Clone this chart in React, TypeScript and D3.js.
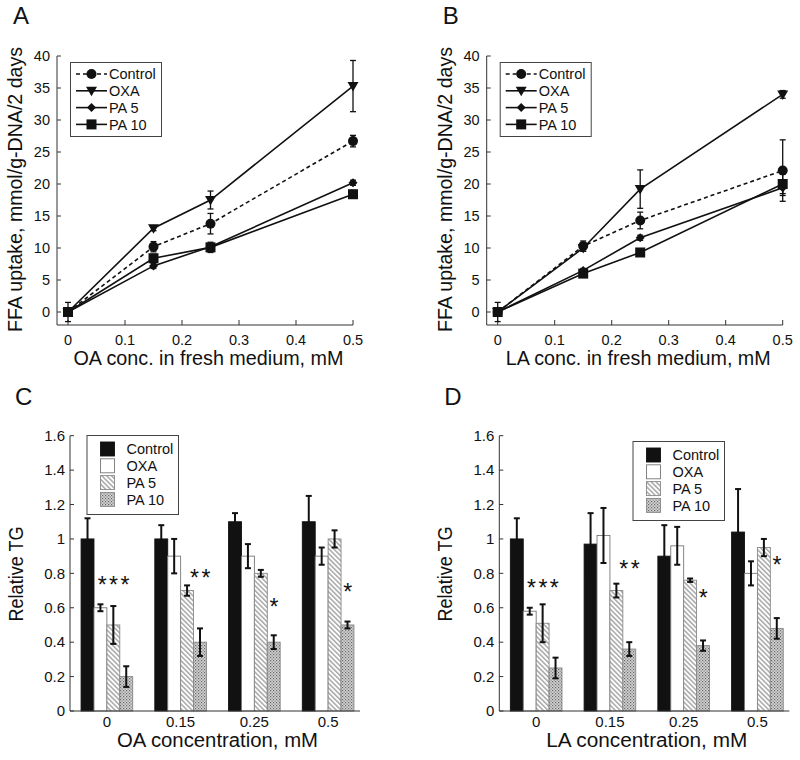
import React from 'react';
import * as d3 from 'd3';

const FONT = '"Liberation Sans", Arial, Helvetica, sans-serif';

const seriesNames = ['Control', 'OXA', 'PA 5', 'PA 10'];

// Panels A/B: FFA uptake
const uptakeConc = [0, 0.15, 0.25, 0.5];
const uptakeYTicks = [0, 5, 10, 15, 20, 25, 30, 35, 40];
const uptakeXTicks = [0, 0.1, 0.2, 0.3, 0.4, 0.5];

const oaControl = [0, 10.2, 13.8, 26.7];
const oaControlErr = [1.5, 0.8, 1.6, 0.9];
const oaOXA = [0, 13.1, 17.5, 35.3];
const oaOXAErr = [0.4, 0.4, 1.4, 4.0];
const oaPA5 = [0, 7.2, 10.2, 20.2];
const oaPA5Err = [0.3, 0.4, 0.5, 0.4];
const oaPA10 = [0, 8.4, 10.1, 18.4];
const oaPA10Err = [0.3, 0.6, 0.8, 0.6];

const laControl = [0, 10.3, 14.3, 22.1];
const laControlErr = [1.5, 0.8, 1.3, 4.8];
const laOXA = [0, 10.0, 19.2, 34.0];
const laOXAErr = [0.3, 0.5, 3.0, 0.6];
const laPA5 = [0, 6.5, 11.6, 19.4];
const laPA5Err = [0.3, 0.3, 0.4, 1.2];
const laPA10 = [0, 6.0, 9.3, 20.0];
const laPA10Err = [0.3, 0.3, 0.4, 1.5];

// Panels C/D: relative TG
const tgConc = ['0', '0.15', '0.25', '0.5'];
const tgYTicks = [0, 0.2, 0.4, 0.6, 0.8, 1, 1.2, 1.4, 1.6];

const oaTGControl = [1.0, 1.0, 1.1, 1.1];
const oaTGControlErr = [0.12, 0.08, 0.05, 0.15];
const oaTGOXA = [0.6, 0.9, 0.9, 0.9];
const oaTGOXAErr = [0.02, 0.1, 0.07, 0.05];
const oaTGPA5 = [0.5, 0.7, 0.8, 1.0];
const oaTGPA5Err = [0.11, 0.03, 0.02, 0.05];
const oaTGPA10 = [0.2, 0.4, 0.4, 0.5];
const oaTGPA10Err = [0.06, 0.08, 0.04, 0.02];

const laTGControl = [1.0, 0.97, 0.9, 1.04];
const laTGControlErr = [0.12, 0.18, 0.18, 0.25];
const laTGOXA = [0.58, 1.02, 0.96, 0.8];
const laTGOXAErr = [0.02, 0.16, 0.11, 0.07];
const laTGPA5 = [0.51, 0.7, 0.76, 0.95];
const laTGPA5Err = [0.11, 0.04, 0.01, 0.05];
const laTGPA10 = [0.25, 0.36, 0.38, 0.48];
const laTGPA10Err = [0.06, 0.04, 0.03, 0.06];

const oaStars = ['***', '**', '*', '*'];
const oaStarSeries = [2, 3, 3, 3];
const oaStarLevel = [0.76, 0.8, 0.635, 0.72];
const laStars = ['***', '**', '*', '*'];
const laStarSeries = [2, 3, 3, 3];
const laStarLevel = [0.745, 0.856, 0.688, 0.88];

const INK = '#111';
const AXIS = '#333';

function Marker({ kind, cx, cy }: { kind: number; cx: number; cy: number }) {
  if (kind === 0) return <circle cx={cx} cy={cy} r={5} fill={INK} />;
  if (kind === 1)
    return <path d={`M${cx - 5.5},${cy - 4} L${cx + 5.5},${cy - 4} L${cx},${cy + 5.5} Z`} fill={INK} />;
  if (kind === 2)
    return <path d={`M${cx},${cy - 4.5} L${cx + 4.5},${cy} L${cx},${cy + 4.5} L${cx - 4.5},${cy} Z`} fill={INK} />;
  return <rect x={cx - 5} y={cy - 5} width={10} height={10} fill={INK} />;
}

function LinePanel({ dx, letter, xTitle, xTitleLen, vals, errs }: any) {
  const x = d3.scaleLinear().domain([0, 0.5]).range([68 + dx, 353 + dx]);
  const y = d3.scaleLinear().domain([0, 40]).range([312, 56]);
  const axX = 57 + dx;
  const axY = 325;
  const line = d3.line<number>().x((_, i) => x(uptakeConc[i])).y((d) => y(d));
  const order = [3, 2, 0, 1];
  return (
    <g fontFamily={FONT}>
      <text x={13 + dx} y={24} fontSize={24} fill={INK}>{letter}</text>
      <line x1={axX} x2={axX} y1={y(40)} y2={axY} stroke={AXIS} strokeWidth={1} />
      <line x1={axX} x2={x(0.5)} y1={axY} y2={axY} stroke={AXIS} strokeWidth={1} />
      {uptakeYTicks.map((t) => (
        <g key={'y' + t}>
          <line x1={axX} x2={axX + 4} y1={y(t)} y2={y(t)} stroke={AXIS} />
          <text x={axX - 7} y={y(t) + 5} fontSize={14.5} textAnchor="end" fill={INK}>{t}</text>
        </g>
      ))}
      {uptakeXTicks.map((t) => (
        <g key={'x' + t}>
          <line x1={x(t)} x2={x(t)} y1={axY} y2={axY - 5} stroke={AXIS} />
          <text x={x(t)} y={axY + 20} fontSize={14.5} textAnchor="middle" fill={INK}>{t}</text>
        </g>
      ))}
      <text x={x(0.25) - 2} y={365} fontSize={19.5} textAnchor="middle" fill={INK}
        textLength={xTitleLen} lengthAdjust="spacingAndGlyphs">{xTitle}</text>
      <text transform={`translate(${22 + dx},${189.5}) rotate(-90)`} fontSize={19.5} textAnchor="middle" fill={INK}
        textLength={285} lengthAdjust="spacingAndGlyphs">
        FFA uptake, mmol/g-DNA/2 days
      </text>
      {order.map((s) => (
        <g key={'s' + s}>
          <path d={line(vals[s]) || ''} fill="none" stroke={INK} strokeWidth={1.6}
            strokeDasharray={s === 0 ? '4,3' : undefined} />
          {vals[s].map((v: number, i: number) => {
            const e = errs[s][i];
            const cx = x(uptakeConc[i]);
            return (
              <g key={i}>
                <line x1={cx} x2={cx} y1={y(v + e)} y2={y(v - e)} stroke={INK} strokeWidth={1.3} />
                <line x1={cx - 3} x2={cx + 3} y1={y(v + e)} y2={y(v + e)} stroke={INK} strokeWidth={1.3} />
                <line x1={cx - 3} x2={cx + 3} y1={y(v - e)} y2={y(v - e)} stroke={INK} strokeWidth={1.3} />
                <Marker kind={s} cx={cx} cy={y(v)} />
              </g>
            );
          })}
        </g>
      ))}
      <rect x={70.5 + dx} y={62.5} width={91} height={74} fill="#fff" stroke="#444" strokeWidth={1} />
      {seriesNames.map((n, i) => {
        const ry = 74 + i * 16.8;
        return (
          <g key={n}>
            <line x1={76 + dx} x2={107 + dx} y1={ry} y2={ry} stroke={INK} strokeWidth={1.6}
              strokeDasharray={i === 0 ? '4,3' : undefined} />
            <Marker kind={i} cx={91.5 + dx} cy={ry} />
            <text x={109 + dx} y={ry + 5.3} fontSize={14.5} fill={INK}>{n}</text>
          </g>
        );
      })}
    </g>
  );
}

const barFills = ['#111', '#fff', 'url(#hatch5)', 'url(#hatch10)'];
const barStrokes = ['#111', '#777', '#888', '#888'];

function BarPanel({ dx, letter, xTitle, vals, errs, stars, starSeries, starLevel, legendX, legendY }: any) {
  const x0 = d3.scaleBand().domain(tgConc).range([70 + dx, 365 + dx]).paddingInner(0.3).paddingOuter(0.15);
  const x1 = d3.scaleBand().domain(seriesNames).range([0, x0.bandwidth()]);
  const y = d3.scaleLinear().domain([0, 1.6]).range([711, 435.7]);
  const axX = 70 + dx;
  const fmt = (t: number) => String(+t.toFixed(1));
  return (
    <g fontFamily={FONT}>
      <text x={15 + dx} y={405} fontSize={24} fill={INK}>{letter}</text>
      {tgConc.map((c, gi) => (
        <g key={c}>
          {seriesNames.map((s, si) => {
            const v = vals[si][gi];
            const e = errs[si][gi];
            const bx = (x0(c) as number) + (x1(s) as number);
            const cx = bx + x1.bandwidth() / 2;
            return (
              <g key={s}>
                <rect x={bx} y={y(v)} width={x1.bandwidth()} height={y(0) - y(v)} fill={barFills[si]}
                  stroke={barStrokes[si]} strokeWidth={0.9} />
                <line x1={cx} x2={cx} y1={y(v + e)} y2={y(v - e)} stroke={INK} strokeWidth={2} />
                <line x1={cx - 3} x2={cx + 3} y1={y(v + e)} y2={y(v + e)} stroke={INK} strokeWidth={2} />
                <line x1={cx - 3} x2={cx + 3} y1={y(v - e)} y2={y(v - e)} stroke={INK} strokeWidth={2} />
              </g>
            );
          })}
          <text x={(x0(c) as number) + (x1(seriesNames[starSeries[gi]]) as number) + x1.bandwidth() / 2 + 1.5}
            y={y(starLevel[gi]) + 13} fontSize={23} letterSpacing={2.5} textAnchor="middle" fill={INK}>
            {stars[gi]}
          </text>
          <text x={(x0(c) as number) + x0.bandwidth() / 2} y={726.5} fontSize={15} textAnchor="middle" fill={INK}>{c}</text>
        </g>
      ))}
      <line x1={axX} x2={axX} y1={y(1.6)} y2={y(0)} stroke={AXIS} />
      <line x1={axX} x2={360 + dx} y1={y(0)} y2={y(0)} stroke={AXIS} />
      {tgYTicks.map((t) => (
        <g key={'y' + t}>
          <line x1={axX} x2={axX + 4} y1={y(t)} y2={y(t)} stroke={AXIS} />
          <text x={axX - 5} y={y(t) + 5.3} fontSize={15} textAnchor="end" fill={INK}>{fmt(t)}</text>
        </g>
      ))}
      <text x={217.5 + dx} y={747} fontSize={19.5} textAnchor="middle" fill={INK}
        textLength={201} lengthAdjust="spacingAndGlyphs">{xTitle}</text>
      <text transform={`translate(${22.5 + dx},${574}) rotate(-90)`} fontSize={19.5} textAnchor="middle" fill={INK}
        textLength={95} lengthAdjust="spacingAndGlyphs">
        Relative TG
      </text>
      <rect x={legendX + 0.5} y={legendY + 0.5} width={91.5} height={79} fill="#fff" stroke="#444" />
      {seriesNames.map((s, i) => {
        const ry = legendY + 14 + i * 16.8;
        return (
          <g key={s}>
            <rect x={legendX + 14} y={ry - 7} width={14} height={14} fill={barFills[i]} stroke={barStrokes[i]}
              strokeWidth={0.9} />
            <text x={legendX + 40} y={ry + 5.3} fontSize={14.5} fill={INK}>{s}</text>
          </g>
        );
      })}
    </g>
  );
}

export default function App() {
  return (
    <svg width={800} height={760} viewBox="0 0 800 760"
      style={{ position: 'absolute', left: 0, top: 0, display: 'block', background: '#fff' }}>
      <defs>
        <pattern id="hatch5" patternUnits="userSpaceOnUse" width={3.4} height={3.4} patternTransform="rotate(-45)">
          <rect width={3.4} height={3.4} fill="#fff" />
          <line x1={0.8} x2={0.8} y1={0} y2={3.4} stroke="#7a7a7a" strokeWidth={1} />
        </pattern>
        <pattern id="hatch10" patternUnits="userSpaceOnUse" width={3} height={3}>
          <rect width={3} height={3} fill="#d4d4d4" />
          <rect x={0} y={0} width={1.2} height={1.2} fill="#666" />
          <rect x={1.5} y={1.5} width={1.2} height={1.2} fill="#777" />
        </pattern>
      </defs>
      <rect width={800} height={760} fill="#fff" />
      <LinePanel dx={0} letter="A" xTitle="OA conc. in fresh medium, mM" xTitleLen={270}
        vals={[oaControl, oaOXA, oaPA5, oaPA10]} errs={[oaControlErr, oaOXAErr, oaPA5Err, oaPA10Err]} />
      <LinePanel dx={429.7} letter="B" xTitle="LA conc. in fresh medium, mM" xTitleLen={265}
        vals={[laControl, laOXA, laPA5, laPA10]} errs={[laControlErr, laOXAErr, laPA5Err, laPA10Err]} />
      <BarPanel dx={0} letter="C" xTitle="OA concentration, mM"
        vals={[oaTGControl, oaTGOXA, oaTGPA5, oaTGPA10]} errs={[oaTGControlErr, oaTGOXAErr, oaTGPA5Err, oaTGPA10Err]}
        stars={oaStars} starSeries={oaStarSeries} starLevel={oaStarLevel} legendX={86.5} legendY={435} />
      <BarPanel dx={429.3} letter="D" xTitle="LA concentration, mM"
        vals={[laTGControl, laTGOXA, laTGPA5, laTGPA10]} errs={[laTGControlErr, laTGOXAErr, laTGPA5Err, laTGPA10Err]}
        stars={laStars} starSeries={laStarSeries} starLevel={laStarLevel} legendX={632.5} legendY={441} />
    </svg>
  );
}
